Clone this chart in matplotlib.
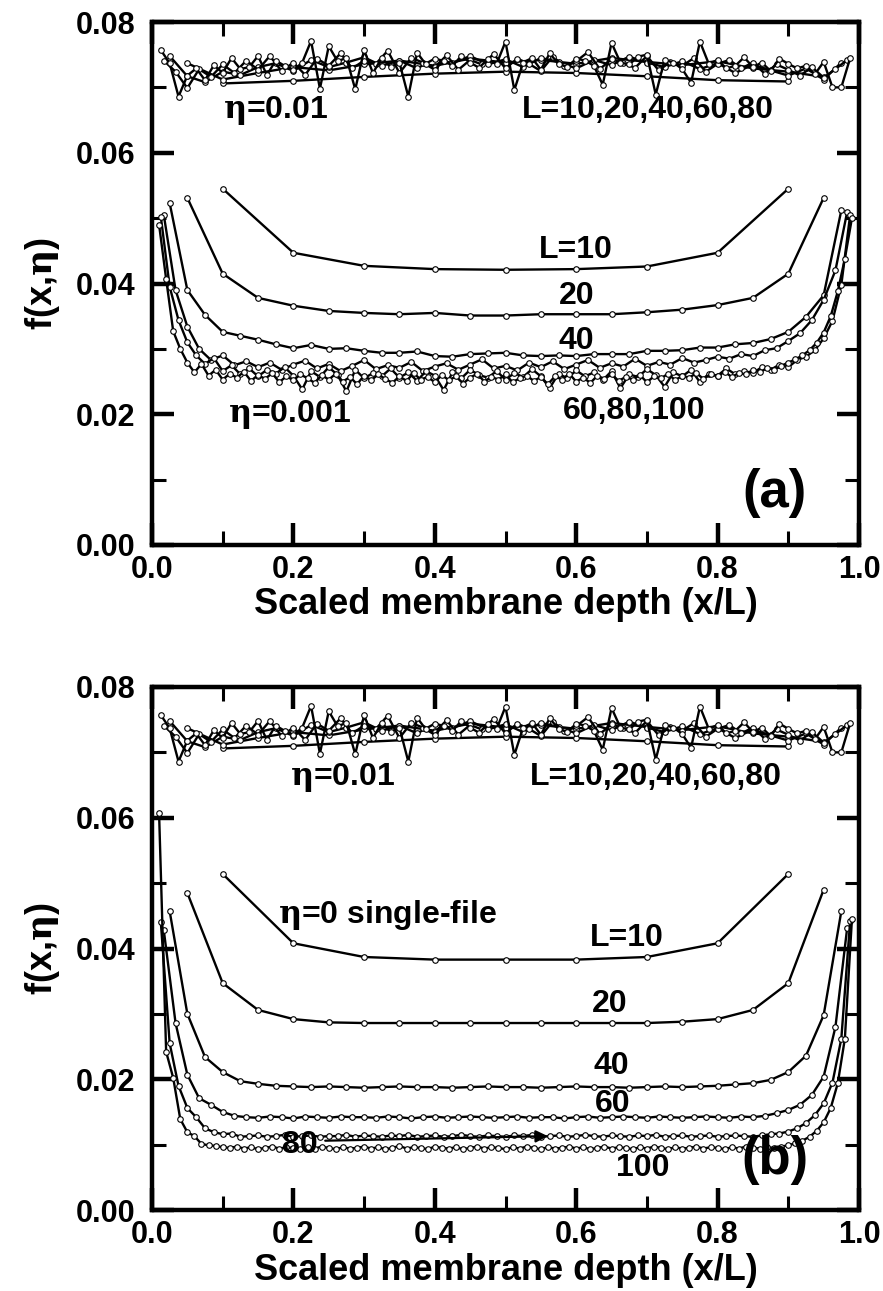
import numpy as np
import matplotlib
matplotlib.use("Agg")
import matplotlib.pyplot as plt
from matplotlib.ticker import MultipleLocator, FormatStrFormatter

plt.rcParams['font.family'] = ['Liberation Sans', 'DejaVu Sans']
plt.rcParams['font.weight'] = 'bold'
plt.rcParams['mathtext.fontset'] = 'custom'
plt.rcParams['mathtext.rm'] = 'DejaVu Serif'
plt.rcParams['mathtext.it'] = 'DejaVu Serif:italic'
plt.rcParams['mathtext.bf'] = 'DejaVu Serif:bold'

# ---------------- data: f(x, eta) at x = i/L, i = 1..L-1 ----------------
# eta = 0.01 (same in both panels)
eta01_L10 = [0.0706, 0.0710, 0.0716, 0.0721, 0.0724, 0.0722, 0.0717, 0.0711, 0.0709]
eta01_L20 = [0.0737, 0.0712, 0.0722, 0.0731, 0.0726, 0.0735, 0.0741, 0.0733, 0.0744, 0.0738,
             0.0742, 0.0736, 0.0745, 0.0739, 0.0734, 0.0740, 0.0729, 0.0724, 0.0716]
eta01_L40 = [0.0748, 0.0717, 0.0708, 0.0724, 0.0719, 0.0731, 0.0737, 0.0725, 0.0742, 0.0731,
             0.0738, 0.0746, 0.0733, 0.0741, 0.0729, 0.0744, 0.0737, 0.0748, 0.0735, 0.0743,
             0.0731, 0.0745, 0.0739, 0.0729, 0.0742, 0.0734, 0.0747, 0.0738, 0.0731, 0.0740,
             0.0728, 0.0737, 0.0722, 0.0735, 0.0726, 0.0718, 0.0729, 0.0712, 0.0738]
eta01_L60 = [0.0741, 0.0724, 0.0699, 0.0728, 0.0716, 0.0735, 0.0722, 0.0741, 0.0727, 0.0748,
             0.0725, 0.0738, 0.0719, 0.0744, 0.0733, 0.0752, 0.0729, 0.0741, 0.0736, 0.0756,
             0.0722, 0.0745, 0.0738, 0.0731, 0.0749, 0.0727, 0.0742, 0.0735, 0.0751, 0.0729,
             0.0744, 0.0736, 0.0725, 0.0747, 0.0733, 0.0740, 0.0754, 0.0728, 0.0743, 0.0737,
             0.0730, 0.0748, 0.0726, 0.0739, 0.0733, 0.0745, 0.0724, 0.0736, 0.0742, 0.0729,
             0.0738, 0.0721, 0.0735, 0.0727, 0.0718, 0.0731, 0.0715, 0.0728, 0.0742]
eta01_L80 = [0.0757, 0.0737, 0.0686, 0.0718, 0.0729, 0.0711, 0.0734, 0.0722, 0.0745, 0.0728,
             0.0731, 0.0748, 0.0719, 0.0741, 0.0733, 0.0726, 0.0738, 0.0771, 0.0698, 0.0763,
             0.0740, 0.0745, 0.0697, 0.0757, 0.0722, 0.0745, 0.0731, 0.0738, 0.0686, 0.0753,
             0.0735, 0.0727, 0.0741, 0.0733, 0.0748, 0.0738, 0.0730, 0.0743, 0.0736, 0.0770,
             0.0696, 0.0738, 0.0745, 0.0727, 0.0752, 0.0736, 0.0731, 0.0744, 0.0741, 0.0733,
             0.0704, 0.0768, 0.0738, 0.0735, 0.0747, 0.0750, 0.0689, 0.0742, 0.0738, 0.0728,
             0.0707, 0.0770, 0.0736, 0.0742, 0.0729, 0.0733, 0.0746, 0.0731, 0.0738, 0.0725,
             0.0744, 0.0736, 0.0729, 0.0733, 0.0720, 0.0739, 0.0700, 0.0700, 0.0745]

# eta = 0.001 (panel a)
eta001_L10 = [0.0545, 0.0447, 0.0427, 0.0422, 0.0421, 0.0422, 0.0426, 0.0447, 0.0545]
eta001_L20 = [0.0531, 0.0415, 0.0378, 0.0366, 0.0358, 0.0355, 0.0353, 0.0355, 0.0351, 0.0351,
              0.0353, 0.0353, 0.0353, 0.0356, 0.0360, 0.0367, 0.0378, 0.0415, 0.0531]
eta001_L40 = [0.0523, 0.0390, 0.0352, 0.0326, 0.0320, 0.0314, 0.0307, 0.0301, 0.0306, 0.0300,
              0.0301, 0.0297, 0.0294, 0.0294, 0.0296, 0.0289, 0.0288, 0.0292, 0.0293, 0.0294,
              0.0290, 0.0289, 0.0290, 0.0289, 0.0292, 0.0292, 0.0292, 0.0297, 0.0297, 0.0298,
              0.0302, 0.0302, 0.0307, 0.0309, 0.0315, 0.0326, 0.0349, 0.0382, 0.0512]
eta001_L60 = [0.0505, 0.0390, 0.0334, 0.0300, 0.0283, 0.0290, 0.0275, 0.0281, 0.0272, 0.0279,
              0.0268, 0.0276, 0.0282, 0.0270, 0.0277, 0.0266, 0.0274, 0.0283, 0.0269, 0.0275,
              0.0271, 0.0280, 0.0266, 0.0273, 0.0278, 0.0268, 0.0276, 0.0284, 0.0270, 0.0274,
              0.0267, 0.0279, 0.0272, 0.0281, 0.0269, 0.0276, 0.0283, 0.0271, 0.0278, 0.0273,
              0.0285, 0.0274, 0.0280, 0.0276, 0.0286, 0.0279, 0.0283, 0.0288, 0.0285, 0.0292,
              0.0289, 0.0298, 0.0301, 0.0312, 0.0324, 0.0344, 0.0375, 0.0420, 0.0510]
eta001_L80 = [0.0502, 0.0395, 0.0344, 0.0310, 0.0290, 0.0277, 0.0286, 0.0266, 0.0275, 0.0261,
              0.0270, 0.0258, 0.0268, 0.0262, 0.0272, 0.0259, 0.0238, 0.0266, 0.0257, 0.0272,
              0.0260, 0.0235, 0.0268, 0.0255, 0.0263, 0.0258, 0.0270, 0.0256, 0.0264, 0.0251,
              0.0266, 0.0259, 0.0237, 0.0264, 0.0255, 0.0268, 0.0260, 0.0256, 0.0266, 0.0253,
              0.0263, 0.0257, 0.0269, 0.0258, 0.0240, 0.0262, 0.0255, 0.0267, 0.0258, 0.0264,
              0.0252, 0.0266, 0.0240, 0.0261, 0.0257, 0.0269, 0.0260, 0.0242, 0.0264, 0.0258,
              0.0268, 0.0249, 0.0262, 0.0259, 0.0270, 0.0261, 0.0266, 0.0263, 0.0272, 0.0268,
              0.0276, 0.0272, 0.0283, 0.0288, 0.0298, 0.0316, 0.0343, 0.0398, 0.0505]
eta001_L100 = [0.0490, 0.0407, 0.0327, 0.0300, 0.0279, 0.0264, 0.0277, 0.0259, 0.0268, 0.0253,
               0.0262, 0.0256, 0.0265, 0.0251, 0.0260, 0.0254, 0.0263, 0.0249, 0.0258, 0.0252,
               0.0261, 0.0255, 0.0248, 0.0260, 0.0253, 0.0262, 0.0250, 0.0257, 0.0246, 0.0259,
               0.0252, 0.0261, 0.0254, 0.0248, 0.0258, 0.0251, 0.0263, 0.0253, 0.0257, 0.0249,
               0.0260, 0.0252, 0.0258, 0.0247, 0.0256, 0.0262, 0.0250, 0.0257, 0.0253, 0.0261,
               0.0249, 0.0255, 0.0259, 0.0251, 0.0257, 0.0246, 0.0258, 0.0253, 0.0262, 0.0250,
               0.0256, 0.0248, 0.0259, 0.0254, 0.0261, 0.0251, 0.0257, 0.0253, 0.0260, 0.0249,
               0.0258, 0.0255, 0.0262, 0.0252, 0.0259, 0.0256, 0.0263, 0.0254, 0.0261, 0.0258,
               0.0265, 0.0257, 0.0263, 0.0261, 0.0268, 0.0264, 0.0271, 0.0268, 0.0274, 0.0279,
               0.0284, 0.0290, 0.0298, 0.0309, 0.0325, 0.0350, 0.0388, 0.0438, 0.0500]

# eta = 0, single-file (panel b)
eta0_L10 = [0.0514, 0.0408, 0.0387, 0.0383, 0.0383, 0.0383, 0.0387, 0.0408, 0.0514]
eta0_L20 = [0.0485, 0.0347, 0.0306, 0.0292, 0.0287, 0.0286, 0.0286, 0.0286, 0.0286, 0.0286,
            0.0286, 0.0286, 0.0286, 0.0286, 0.0288, 0.0292, 0.0306, 0.0347, 0.0490]
eta0_L40 = [0.0457, 0.0300, 0.0234, 0.0211, 0.0197, 0.0193, 0.0190, 0.0189,
            0.0188, 0.0189, 0.0188, 0.0187, 0.0188, 0.0189, 0.0188, 0.0188, 0.0187, 0.0188,
            0.0189, 0.0188, 0.0188, 0.0187, 0.0188, 0.0189, 0.0188, 0.0188, 0.0187, 0.0188,
            0.0189, 0.0188, 0.0189,
            0.0190, 0.0192, 0.0194, 0.0199, 0.0211, 0.0236, 0.0298, 0.0457]
eta0_L60 = [0.0428, 0.0286, 0.0207, 0.0171, 0.0161, 0.0150, 0.0144, 0.0142, 0.0141, 0.0143,
            0.0142, 0.0140, 0.0143, 0.0142, 0.0141, 0.0143, 0.0142, 0.0142, 0.0141, 0.0143,
            0.0142, 0.0140, 0.0142, 0.0143, 0.0141, 0.0142, 0.0143, 0.0142, 0.0141, 0.0142,
            0.0143, 0.0141, 0.0142, 0.0142, 0.0140, 0.0142, 0.0143, 0.0141, 0.0142, 0.0143,
            0.0142, 0.0141, 0.0143, 0.0142, 0.0141, 0.0142, 0.0143, 0.0142, 0.0141, 0.0143,
            0.0142, 0.0144, 0.0148, 0.0153, 0.0161, 0.0176, 0.0204, 0.0280, 0.0432]
eta0_L80 = [0.0440, 0.0255, 0.0190, 0.0156, 0.0142, 0.0125, 0.0119, 0.0116, 0.0117, 0.0112,
            0.0113, 0.0114, 0.0112, 0.0113, 0.0115, 0.0112, 0.0113, 0.0114, 0.0112, 0.0113,
            0.0113, 0.0115, 0.0112, 0.0114, 0.0113, 0.0112, 0.0114, 0.0113, 0.0115, 0.0112,
            0.0113, 0.0114, 0.0112, 0.0113, 0.0115, 0.0113, 0.0112, 0.0114, 0.0113, 0.0112,
            0.0114, 0.0113, 0.0115, 0.0112, 0.0113, 0.0114, 0.0112, 0.0113, 0.0115, 0.0113,
            0.0112, 0.0114, 0.0113, 0.0112, 0.0114, 0.0113, 0.0115, 0.0112, 0.0113, 0.0114,
            0.0112, 0.0113, 0.0114, 0.0112, 0.0113, 0.0114, 0.0113, 0.0112, 0.0114, 0.0116,
            0.0117, 0.0120, 0.0125, 0.0133, 0.0145, 0.0163, 0.0195, 0.0262, 0.0442]
eta0_L100 = [0.0607, 0.0242, 0.0202, 0.0139, 0.0119, 0.0113, 0.0101, 0.0099, 0.0098, 0.0096,
             0.0095, 0.0097, 0.0094, 0.0096, 0.0093, 0.0095, 0.0097, 0.0094, 0.0096, 0.0095,
             0.0093, 0.0096, 0.0094, 0.0097, 0.0095, 0.0093, 0.0096, 0.0094, 0.0095, 0.0097,
             0.0094, 0.0096, 0.0093, 0.0095, 0.0098, 0.0094, 0.0096, 0.0095, 0.0093, 0.0097,
             0.0095, 0.0094, 0.0096, 0.0093, 0.0095, 0.0097, 0.0094, 0.0096, 0.0095, 0.0093,
             0.0096, 0.0094, 0.0097, 0.0095, 0.0093, 0.0096, 0.0094, 0.0095, 0.0097, 0.0094,
             0.0096, 0.0093, 0.0095, 0.0097, 0.0094, 0.0096, 0.0095, 0.0093, 0.0096, 0.0094,
             0.0097, 0.0095, 0.0093, 0.0096, 0.0094, 0.0095, 0.0097, 0.0094, 0.0096, 0.0095,
             0.0093, 0.0096, 0.0094, 0.0097, 0.0095, 0.0094, 0.0096, 0.0095, 0.0097, 0.0099,
             0.0102, 0.0106, 0.0112, 0.0121, 0.0134, 0.0156, 0.0194, 0.0262, 0.0445]

eta01_set = [eta01_L10, eta01_L20, eta01_L40, eta01_L60, eta01_L80]
panel_a_low = [eta001_L10, eta001_L20, eta001_L40, eta001_L60, eta001_L80, eta001_L100]
panel_b_low = [eta0_L10, eta0_L20, eta0_L40, eta0_L60, eta0_L80, eta0_L100]

xticks = [0.0, 0.2, 0.4, 0.6, 0.8, 1.0]
yticks = [0.00, 0.02, 0.04, 0.06, 0.08]
ETA = r'$\mathrm{\eta}$'

# ---------------- figure ----------------
W, H = 883, 1291
fig = plt.figure(figsize=(W / 100, H / 100), dpi=100)
ax_a = fig.add_axes([152 / W, 1 - 545 / H, 707 / W, 523 / H])
ax_b = fig.add_axes([152 / W, 1 - 1210 / H, 707 / W, 523 / H])


def draw_series(ax, series):
    for v in series:
        n = len(v)
        x = np.arange(1, n + 1) / (n + 1)
        ax.plot(x, v, color='black', lw=1.7, marker='o', ms=4.0,
                mfc='white', mec='black', mew=0.8, zorder=3)


def style(ax):
    ax.set_xlim(0, 1)
    ax.set_ylim(0, 0.08)
    ax.set_xticks(xticks)
    ax.set_yticks(yticks)
    ax.xaxis.set_minor_locator(MultipleLocator(0.1))
    ax.yaxis.set_minor_locator(MultipleLocator(0.01))
    ax.xaxis.set_major_formatter(FormatStrFormatter('%.1f'))
    ax.yaxis.set_major_formatter(FormatStrFormatter('%.2f'))
    ax.tick_params(which='both', direction='in', top=True, right=True)
    ax.tick_params(which='major', length=16, width=3.2, labelsize=22)
    ax.tick_params(which='minor', length=10, width=2.2)
    ax.tick_params(axis='x', which='major', pad=7)
    ax.tick_params(axis='y', which='major', pad=12)
    for s in ax.spines.values():
        s.set_linewidth(3.2)
    ax.set_xlabel('Scaled membrane depth (x/L)', fontsize=26, fontweight='bold', labelpad=2)
    ax.set_ylabel('f(x,' + ETA + ')', fontsize=26, fontweight='bold', labelpad=10)


for ax in (ax_a, ax_b):
    draw_series(ax, eta01_set)
    style(ax)
draw_series(ax_a, panel_a_low)
draw_series(ax_b, panel_b_low)

tk = dict(fontsize=23, fontweight='bold', ha='center', va='center')
ax_a.text(0.175, 0.0665, ETA + '=0.01', **tk)
ax_a.text(0.702, 0.0665, 'L=10,20,40,60,80', **tk)
ax_a.text(0.600, 0.0451, 'L=10', **tk)
ax_a.text(0.600, 0.0381, '20', **tk)
ax_a.text(0.600, 0.0312, '40', **tk)
ax_a.text(0.195, 0.0200, ETA + '=0.001', **tk)
ax_a.text(0.682, 0.0205, '60,80,100', **tk)
ax_a.text(0.881, 0.0080, '(a)', fontsize=38, fontweight='bold', ha='center', va='center')

ax_b.text(0.269, 0.0662, ETA + '=0.01', **tk)
ax_b.text(0.712, 0.0662, 'L=10,20,40,60,80', **tk)
ax_b.text(0.178, 0.0451, ETA + '=0 single-file', fontsize=23, fontweight='bold',
          ha='left', va='center')
ax_b.text(0.672, 0.0416, 'L=10', **tk)
ax_b.text(0.648, 0.0315, '20', **tk)
ax_b.text(0.649, 0.0220, '40', **tk)
ax_b.text(0.651, 0.0162, '60', **tk)
ax_b.text(0.694, 0.0064, '100', **tk)
ax_b.text(0.209, 0.0100, '80', zorder=5, **tk)
ax_b.annotate('', xy=(0.56, 0.0113), xytext=(0.245, 0.0106),
              arrowprops=dict(arrowstyle='-|>', lw=1.6, color='black',
                              shrinkA=0, shrinkB=0, mutation_scale=18), zorder=5)
ax_b.text(0.881, 0.0077, '(b)', fontsize=38, fontweight='bold', ha='center', va='center')

fig.savefig('out.png', dpi=100)
